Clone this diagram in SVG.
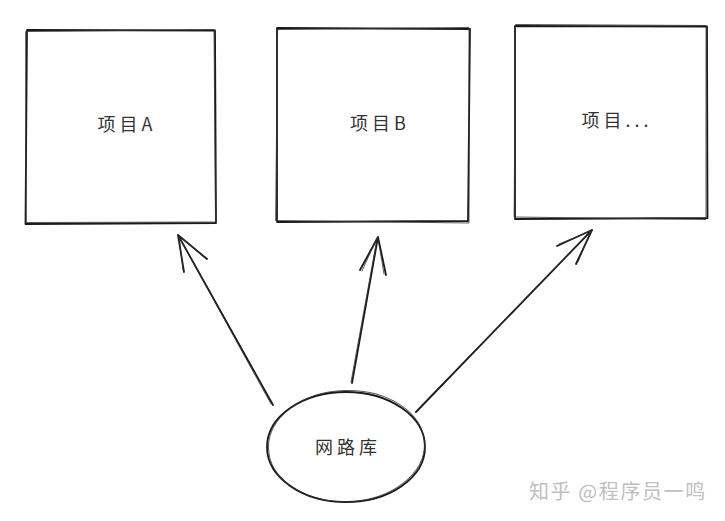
<svg xmlns="http://www.w3.org/2000/svg" width="725" height="521" viewBox="0 0 725 521">
<style>
.s{fill:none;stroke:#1a1a1a;stroke-width:1.8;stroke-linecap:round;stroke-linejoin:round}
.s2{fill:none;stroke:#333;stroke-width:1;stroke-linecap:round;stroke-linejoin:round;opacity:0.8}
.lbl{font-family:"Noto Sans CJK SC","Noto Sans",sans-serif;font-size:18px;fill:#333;text-anchor:middle;letter-spacing:4px}
.wm{font-family:"Noto Sans CJK SC","Noto Sans",sans-serif;font-size:20px;fill:#c0c0c0;letter-spacing:1.6px}
</style>
<rect width="725" height="521" fill="#ffffff"/>
<g id="boxA">
<path class="s" d="M27 30 L215 30.5 L216 223 L25.5 224 Z"/>
<path class="s2" d="M26 31.5 L214 29.5 L215.5 222 L26.5 222.5 Z"/>
<text class="lbl" x="127" y="131">项目A</text>
</g>
<g id="boxB">
<path class="s" d="M277 28 L470 29 L468 221 L277 222 Z"/>
<path class="s2" d="M278 29.5 L469 27.5 L469 223 L276 220.5 Z"/>
<text class="lbl" x="380" y="130">项目B</text>
</g>
<g id="boxC">
<path class="s" d="M515 26 L707 26.5 L707.5 218 L515 219 Z"/>
<path class="s2" d="M516 24.5 L706 25.5 L706 219.5 L514.5 217 Z"/>
<text class="lbl" x="617" y="127">项目...</text>
</g>
<g id="lib">
<ellipse class="s" cx="346" cy="447" rx="79" ry="55"/>
<ellipse class="s2" cx="346.5" cy="446" rx="78" ry="55.5" transform="rotate(-2 346 447)"/>
<text class="lbl" x="348" y="454">网路库</text>
</g>
<g id="connectors">
<path class="s" d="M273 405 L178 235 M178 235 L184 272 M178 235 L207 259"/>
<path class="s2" d="M271 404 L179 237 M179 236 L183 270 M179 236 L205 258"/>
<path class="s" d="M352 383 L378 237 M378 237 L360 270 M378 237 L386 275"/>
<path class="s2" d="M351 382 L377 239 M377 238 L362 271 M378 238 L384 274"/>
<path class="s" d="M416 412 L592 230 M592 230 L557 246 M592 230 L576 264"/>
<path class="s2" d="M418 409 L590 232 M591 231 L559 244 M591 231 L578 262"/>
</g>
<text class="wm" x="529" y="499">知乎 @程序员一鸣</text>
</svg>
